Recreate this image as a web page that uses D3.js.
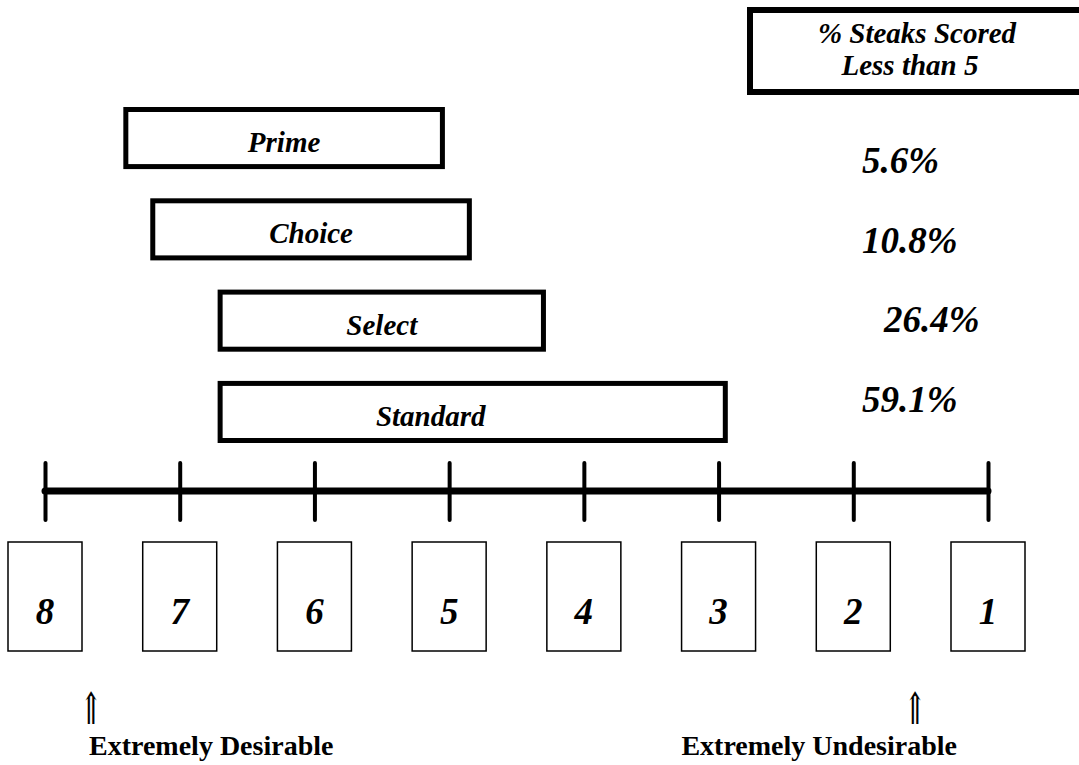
<!DOCTYPE html>
<html>
<head>
<meta charset="utf-8">
<script src="https://cdn.jsdelivr.net/npm/d3@7"></script>
<style>
  body { margin: 0; background: #fff; }
  text { font-family: 'Liberation Serif', 'Times New Roman', serif; fill: #000; }
</style>
</head>
<body>
<div id="chart"></div>
<script>
// palatability scale, 8 = extremely desirable ... 1 = extremely undesirable
const scores = [8, 7, 6, 5, 4, 3, 2, 1]

const grades = ['Prime', 'Choice', 'Select', 'Standard']
// range of scores covered by each grade (desirable end, undesirable end)
const gradeFrom = [7.4, 7.2, 6.7, 6.7]
const gradeTo = [5.05, 4.85, 4.3, 2.95]
const pctBelow5 = [5.6, 10.8, 26.4, 59.1]

const headerLines = ['% Steaks Scored', 'Less than 5']
const endLabels = ['Extremely Desirable', 'Extremely Undesirable']

const width = 1079
const height = 765

const svg = d3
  .select('#chart')
  .append('svg')
  .attr('width', width)
  .attr('height', height)

const xPositionScale = d3.scaleLinear().domain([8, 1]).range([45, 988])

const rowScale = d3
  .scaleBand()
  .domain(grades)
  .range([107, 443])
  .paddingInner(0.32)

const pctScale = d3.scalePoint().domain(grades).range([173, 412])

// header box, runs off the right edge
svg
  .append('rect')
  .attr('x', 750)
  .attr('y', 10)
  .attr('width', 400)
  .attr('height', 82)
  .attr('fill', 'none')
  .attr('stroke', '#000')
  .attr('stroke-width', 6)

svg
  .selectAll('.header')
  .data(headerLines)
  .enter()
  .append('text')
  .attr('class', 'header')
  .text(d => d)
  .attr('x', (d, i) => (i === 0 ? 917 : 910))
  .attr('y', (d, i) => 43 + i * 32)
  .attr('text-anchor', 'middle')
  .attr('font-size', 29)
  .attr('font-weight', 'bold')
  .attr('font-style', 'italic')

// grade bars
const bars = svg
  .selectAll('.grade')
  .data(grades)
  .enter()
  .append('g')
  .attr('class', 'grade')

bars
  .append('rect')
  .attr('x', (d, i) => xPositionScale(gradeFrom[i]))
  .attr('y', d => rowScale(d) + 2.5)
  .attr('width', (d, i) => xPositionScale(gradeTo[i]) - xPositionScale(gradeFrom[i]))
  .attr('height', rowScale.bandwidth() - 5)
  .attr('fill', 'none')
  .attr('stroke', '#000')
  .attr('stroke-width', 5)

bars
  .append('text')
  .text(d => d)
  .attr('x', (d, i) => {
    const mid = (xPositionScale(gradeFrom[i]) + xPositionScale(gradeTo[i])) / 2
    // the Standard label sits left of the middle of its long bar
    return d === 'Standard' ? mid - 42 : mid
  })
  .attr('y', d => rowScale(d) + rowScale.bandwidth() / 2 + 14)
  .attr('text-anchor', 'middle')
  .attr('font-size', 29)
  .attr('font-weight', 'bold')
  .attr('font-style', 'italic')

svg
  .selectAll('.pct')
  .data(pctBelow5)
  .enter()
  .append('text')
  .attr('class', 'pct')
  .text(d => d3.format('.1f')(d) + '%')
  .attr('x', (d, i) => (i === 2 ? 884 : 862))
  .attr('y', (d, i) => pctScale(grades[i]))
  .attr('font-size', 37)
  .attr('font-weight', 'bold')
  .attr('font-style', 'italic')

// score axis
const xAxis = d3
  .axisBottom(xPositionScale)
  .tickValues(scores)
  .tickSize(57)
  .tickFormat('')

svg
  .append('g')
  .attr('class', 'axis x-axis')
  .attr('transform', 'translate(0,463)')
  .call(xAxis)

svg.selectAll('.x-axis path').remove()
svg
  .selectAll('.x-axis line')
  .attr('stroke', '#000')
  .attr('stroke-width', 4)
  .attr('stroke-linecap', 'round')

svg
  .append('line')
  .attr('x1', xPositionScale(8))
  .attr('x2', xPositionScale(1))
  .attr('y1', 491)
  .attr('y2', 491)
  .attr('stroke', '#000')
  .attr('stroke-width', 7)
  .attr('stroke-linecap', 'round')

// score boxes
const boxes = svg
  .selectAll('.score')
  .data(scores)
  .enter()
  .append('g')
  .attr('class', 'score')
  .attr('transform', d => 'translate(' + xPositionScale(d) + ',0)')

boxes
  .append('rect')
  .attr('x', -37)
  .attr('y', 542)
  .attr('width', 74)
  .attr('height', 109)
  .attr('fill', 'none')
  .attr('stroke', '#000')
  .attr('stroke-width', 1.5)

boxes
  .append('text')
  .text(d => d)
  .attr('x', 0)
  .attr('y', 624)
  .attr('text-anchor', 'middle')
  .attr('font-size', 37)
  .attr('font-weight', 'bold')
  .attr('font-style', 'italic')

// end-of-scale notes
svg
  .selectAll('.arrow')
  .data(endLabels)
  .enter()
  .append('text')
  .attr('class', 'arrow')
  .text('\u21D1')
  .attr('transform', (d, i) => {
    const ax = i === 0 ? xPositionScale(8) + 46 : xPositionScale(1) - 73
    return 'translate(' + ax + ',724) scale(0.6,1)'
  })
  .attr('text-anchor', 'middle')
  .attr('font-size', 44)
  .style('font-family', "'DejaVu Serif', serif")

svg
  .selectAll('.end-label')
  .data(endLabels)
  .enter()
  .append('text')
  .attr('class', 'end-label')
  .text(d => d)
  .attr('x', (d, i) => (i === 0 ? xPositionScale(8) + 44 : xPositionScale(1) - 31))
  .attr('y', 755)
  .attr('text-anchor', (d, i) => (i === 0 ? 'start' : 'end'))
  .attr('font-size', 28)
  .attr('font-weight', 'bold')
</script>
</body>
</html>
